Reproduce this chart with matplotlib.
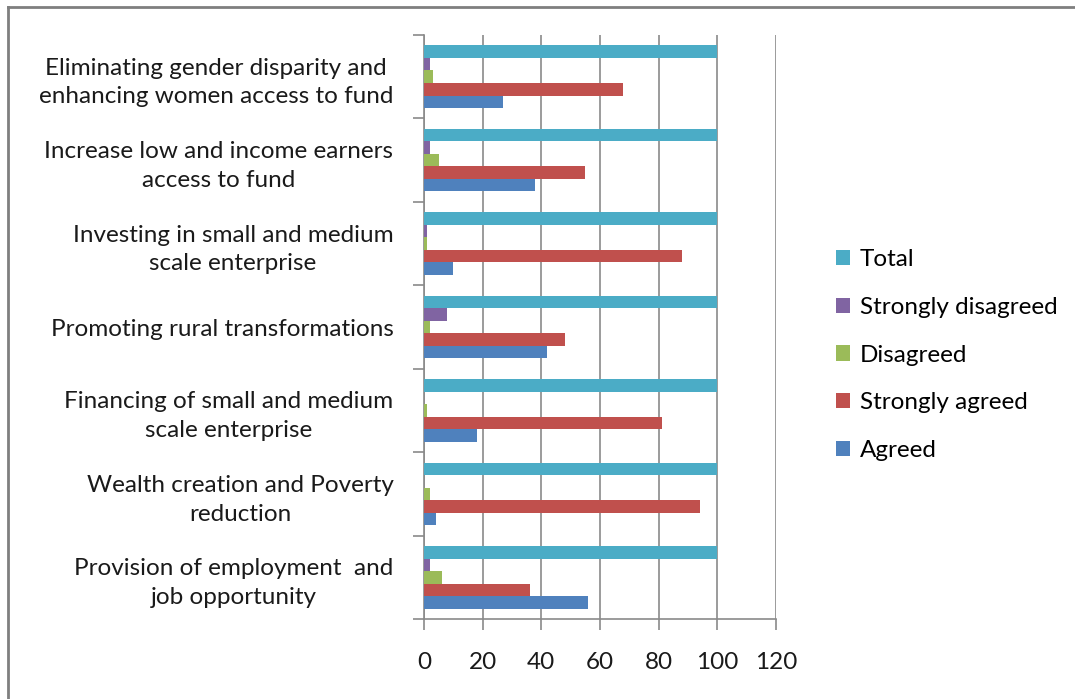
import matplotlib.pyplot as plt
from matplotlib.lines import Line2D
import numpy as np

# categories listed bottom -> top
categories = [
    "Provision of employment  and\njob opportunity",
    "Wealth creation and Poverty\nreduction",
    "Financing of small and medium\nscale enterprise",
    "Promoting rural transformations",
    "Investing in small and medium\nscale enterprise",
    "Increase low and income earners\naccess to fund",
    "Eliminating gender disparity and\nenhancing women access to fund",
]
agreed = [56, 4, 18, 42, 10, 38, 27]
strongly_agreed = [36, 94, 81, 48, 88, 55, 68]
disagreed = [6, 2, 1, 2, 1, 5, 3]
strongly_disagreed = [2, 0, 0, 8, 1, 2, 2]
total = [100, 100, 100, 100, 100, 100, 100]

series_names = ["Agreed", "Strongly agreed", "Disagreed", "Strongly disagreed", "Total"]
series_values = [agreed, strongly_agreed, disagreed, strongly_disagreed, total]
colors = ["#4F81BD", "#C0504D", "#9BBB59", "#8064A2", "#4BACC6"]
x_ticks = [0, 20, 40, 60, 80, 100, 120]

plt.rcParams['font.family'] = ['Lato', 'DejaVu Sans']
fs = 17.5
grey = "#8a8a8a"

fig = plt.figure(figsize=(10.75, 6.99), dpi=100)
ax = fig.add_axes([0.3944, 0.1144, 0.3275, 0.8355])

y = np.arange(len(categories))
h = 0.15
for i, (name, vals, c) in enumerate(zip(series_names, series_values, colors)):
    ax.barh(y + (i - 2) * h, vals, height=h, color=c, label=name, zorder=3)

ax.set_xlim(0, 120)
ax.set_ylim(-0.5, len(categories) - 0.5)
ax.set_xticks(x_ticks)
ax.set_xticklabels([str(t) for t in x_ticks], fontsize=fs)
ax.set_yticks(y)
ax.set_yticklabels(categories, fontsize=fs, ha="right", multialignment="center",
                   linespacing=1.45)
ax.set_yticks(np.arange(-0.5, len(categories)), minor=True)

ax.tick_params(axis="y", which="major", length=0, pad=22, colors="#1a1a1a")
ax.tick_params(axis="y", which="minor", length=8, color=grey, width=1.2)
ax.tick_params(axis="x", length=8, color=grey, width=1.2, pad=16, colors="#1a1a1a")
ax.tick_params(axis="x", color=grey)

ax.grid(axis="x", color=grey, linewidth=1.2, zorder=0)
for s in ["top", "right"]:
    ax.spines[s].set_visible(False)
for s in ["left", "bottom"]:
    ax.spines[s].set_color(grey)
    ax.spines[s].set_linewidth(1.2)

handles, labels = ax.get_legend_handles_labels()
ax.legend(handles[::-1], labels[::-1], loc="center left", bbox_to_anchor=(0.757, 0.492),
          bbox_transform=fig.transFigure, frameon=False, fontsize=fs,
          handlelength=0.6, handleheight=0.6, handletextpad=0.4, labelspacing=1.1)

# outer border (top and left)
fig.add_artist(Line2D([0.0075, 1.0], [0.99, 0.99], transform=fig.transFigure, color="#7f7f7f", lw=2))
fig.add_artist(Line2D([0.0075, 0.0075], [0.0, 0.99], transform=fig.transFigure, color="#7f7f7f", lw=2))

fig.savefig("out.png", dpi=100)
